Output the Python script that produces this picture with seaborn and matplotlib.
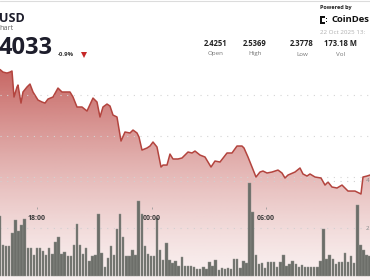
import numpy as np
import matplotlib
matplotlib.use("Agg")
import matplotlib.pyplot as plt
import seaborn as sns
from matplotlib.patches import Rectangle
import matplotlib.transforms as mtransforms

# ---------------- data (hours relative to 18:00) ----------------
price_hour = [-1.937, -1.780, -1.571, -1.414, -1.309, -1.204, -1.047, -0.995, -0.838, -0.733,
              -0.524, -0.367, -0.209, 0.052, 0.262, 0.419, 0.576, 0.838, 1.099, 1.309,
              1.571, 1.728, 1.885, 2.094, 2.356, 2.618, 2.932, 3.141, 3.298, 3.455,
              3.665, 3.822, 3.979, 4.188, 4.398, 4.607, 4.869, 5.026, 5.236, 5.340,
              5.497, 5.759, 5.916, 6.073, 6.283, 6.492, 6.597, 6.806, 6.963, 7.120,
              7.382, 7.592, 7.906, 8.115, 8.272, 8.534, 8.796, 9.110, 9.319, 9.581,
              9.948, 10.209, 10.471, 10.733, 10.838, 11.047, 11.466, 11.675, 11.832, 12.042,
              12.304, 12.618, 12.827, 12.984, 13.141, 13.508, 13.770, 13.927, 14.136, 14.293,
              14.555, 14.869, 15.079, 15.236, 15.445, 15.707, 15.969, 16.283, 16.649, 16.859,
              16.963, 17.068, 17.277, 17.435]
price_value = [2.5311, 2.5280, 2.5268, 2.5280, 2.5293, 2.4976, 2.5098, 2.5122, 2.4902, 2.5037,
               2.5098, 2.5134, 2.5037, 2.4939, 2.4915, 2.4902, 2.4951, 2.4976, 2.5085, 2.5037,
               2.5037, 2.5037, 2.4976, 2.4854, 2.4854, 2.4805, 2.4963, 2.4915, 2.4732, 2.4854,
               2.4890, 2.4866, 2.4756, 2.4732, 2.4439, 2.4549, 2.4537, 2.4573, 2.4537, 2.4488,
               2.4329, 2.4354, 2.4378, 2.4427, 2.4366, 2.4122, 2.4146, 2.4146, 2.4280, 2.4220,
               2.4220, 2.4232, 2.4305, 2.4293, 2.4317, 2.4268, 2.4244, 2.4122, 2.4195, 2.4183,
               2.4293, 2.4293, 2.4378, 2.4378, 2.4354, 2.4244, 2.4000, 2.4061, 2.4073, 2.4049,
               2.4061, 2.4085, 2.4049, 2.3988, 2.4024, 2.4061, 2.4110, 2.4037, 2.4012, 2.4037,
               2.4000, 2.3988, 2.3902, 2.3939, 2.3878, 2.3866, 2.3902, 2.3829, 2.3829, 2.3805,
               2.3793, 2.4000, 2.4012, 2.4024]

bar_start_hour = -1.937
bar_step_hour = 0.1613
volume_m = [25.3, 13.1, 12.7, 12.7, 18.0, 23.7, 18.8, 21.6, 24.1, 11.8, 11.8, 9.0, 11.8, 11.8,
            10.6, 9.0, 11.8, 9.4, 14.3, 16.3, 9.4, 10.2, 8.6, 8.6, 13.1, 22.0, 13.1, 9.4, 11.8,
            6.5, 8.6, 9.0, 26.1, 9.8, 3.7, 7.8, 12.7, 9.0,
            19.6, 26.1, 16.3, 8.6, 8.6, 11.0, 9.0, 31.4, 26.1, 12.7, 9.4, 8.6, 8.6, 24.5, 11.0,
            6.9, 13.9, 6.9, 5.7, 6.5, 4.1, 8.2, 4.1, 4.1, 4.1, 3.7, 2.9, 2.9, 3.7, 2.9, 6.1, 4.1,
            6.9, 2.4, 3.3, 2.9, 3.3, 2.9, 7.3, 7.3, 3.3, 6.5,
            5.7, 39.2, 26.9, 9.0, 4.9, 5.3, 3.3, 6.1, 6.1, 6.1, 3.7, 6.1, 9.0, 4.1, 4.9, 6.5, 4.9,
            3.7, 4.5, 3.7, 3.7, 3.7, 3.7, 3.7, 6.5, 19.6, 7.3, 9.0, 7.3, 4.9, 6.1, 6.1, 9.8, 6.1,
            8.6, 5.7, 29.8, 13.1, 11.0, 9.0, 8.6]

tick_hours = [0, 6, 12]
tick_labels = ["18:00", "00:00", "06:00"]
price_grid = [2.40, 2.45, 2.50]
volume_grid = [20, 40]
volume_grid_labels = ["2", "4"]          # only the visible part of the axis labels
stat_values = ["2.4251", "2.5369", "2.3778", "173.18 M"]
stat_labels = ["Open", "High", "Low", "Vol"]
last_price_text = "4033"
change_text = "-0.9%"

# ---------------- style ----------------
sns.set_theme(style="white")
plt.rcParams['font.family'] = ['Open Sans', 'DejaVu Sans']

W, H = 370, 280
fig = plt.figure(figsize=(W / 100, H / 100), dpi=100)
fig.patch.set_facecolor("white")

ax = fig.add_axes([0, 0, 1, 1])
ax.set_axis_off()
xmin, xmax = -1.937, 17.435
pmin, pmax = 2.2744, 2.6159
ax.set_xlim(xmin, xmax)
ax.set_ylim(pmin, pmax)

# gradient area under price line
poly = ax.fill_between(price_hour, price_value, pmin, facecolor="none", edgecolor="none")
ptop = max(price_value)
ys = np.linspace(pmin, pmax, 400)
t = np.clip((ys - pmin) / (ptop - pmin), 0, 1) ** 1.3
alpha = 0.08 + 0.78 * t
base = np.array([190, 78, 74]) / 255.0
rgba = np.zeros((len(ys), 1, 4))
rgba[:, 0, :3] = base
rgba[:, 0, 3] = alpha
im = ax.imshow(rgba, extent=(xmin, xmax, pmin, pmax), origin="lower", aspect="auto",
               zorder=1, interpolation="bilinear")
im.set_clip_path(poly.get_paths()[0], transform=ax.transData)

for g in price_grid:
    ax.axhline(g, color="#d4d4d4", lw=0.8, ls=(0, (1, 5)), zorder=2)

sns.lineplot(x=price_hour, y=price_value, ax=ax, color="#b3443e", linewidth=1.1,
             sort=False, zorder=3)
ax.set_xlim(xmin, xmax)
ax.set_ylim(pmin, pmax)
ax.set_axis_off()

# volume bars
ax2 = ax.twinx()
ax2.set_axis_off()
ax2.set_xlim(xmin, xmax)
ax2.set_ylim(-1.63, 115.9)
bar_hours = bar_start_hour + bar_step_hour * np.arange(len(volume_m))
ax2.bar(bar_hours, volume_m, width=bar_step_hour * 0.78, color="#6c6e69",
        edgecolor="#8f918c", linewidth=0.3, zorder=3)
for g, lab in zip(volume_grid, volume_grid_labels):
    ax2.axhline(g, color="#d0d0d0", lw=0.8, ls=(0, (1, 5)), zorder=2)
    ax2.text(xmax - 0.04, g, lab, fontsize=4.5, color="#8a8a8a", va="center", ha="right")

trans = mtransforms.blended_transform_factory(ax2.transData, ax2.transAxes)
for h, lab in zip(tick_hours, tick_labels):
    ax2.plot([h], [1 - 208 / H], marker="|", ms=1.8, mew=0.6, color="#9a9a9a",
             transform=trans, ls="none", zorder=4)
    ax2.text(h, 1 - 219 / H, lab, transform=trans, fontsize=5, fontweight="bold",
             color="#3a3a3a", ha="center", va="center", zorder=5)


# ---------------- header text ----------------
def ft(x, y, s, **kw):
    fig.text(x / W, 1 - y / H, s, **kw)


fig.add_artist(plt.Line2D([0, 1], [1 - 0.7 / H, 1 - 0.7 / H], transform=fig.transFigure,
                          color="#dcdcdc", lw=0.8))
ft(-1, 18, "USD", fontsize=9, fontweight="bold", color="#1d1d2b", va="center", ha="left")
ft(-0.5, 28.5, "hart", fontsize=5.2, color="#666666", va="center", ha="left")
ft(-1.5, 48.5, last_price_text, fontsize=17, fontweight="bold", color="#1d1d2b",
   va="center", ha="left")
ft(58, 54, change_text, fontsize=4.3, fontweight="bold", color="#333333", va="center", ha="left")
fig.add_artist(plt.Line2D([84.2 / W], [1 - 54.5 / H], transform=fig.transFigure, marker="v",
                          ms=4, color="#c62828", mew=0))

ft(320, 7, "Powered by", fontsize=4, fontweight="bold", color="#222222", va="center", ha="left")
for (rx, ry, rw, rh) in [(320, 16, 1.6, 8), (320, 16, 5, 1.6), (320, 22.4, 5, 1.6),
                         (326, 18, 1.4, 1.4), (326, 20.8, 1.4, 1.4)]:
    fig.add_artist(Rectangle((rx / W, 1 - (ry + rh) / H), rw / W, rh / H,
                             transform=fig.transFigure, color="#111111", lw=0))
ft(369.5, 20, "CoinDes", fontsize=6.8, fontweight="bold", color="#111111", va="center", ha="right")
ft(320, 33, "22 Oct 2025 13:", fontsize=4.5, color="#b0b0b0", va="center", ha="left")

for cx, v, lab in zip([216, 255, 302, 340], stat_values, stat_labels):
    ft(cx, 43.5, v, fontsize=5.5, fontweight="bold", color="#222222", va="center", ha="center")
    ft(cx, 54, lab, fontsize=4.5, color="#777777", va="center", ha="center")

fig.savefig("out.png", dpi=100, facecolor="white")
